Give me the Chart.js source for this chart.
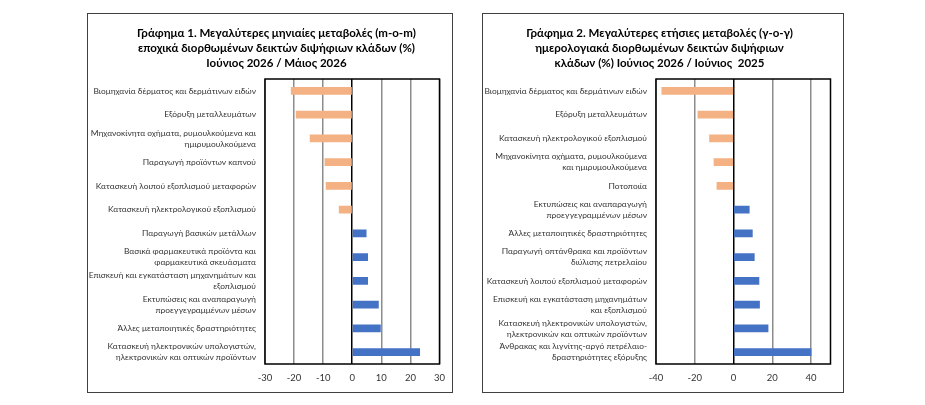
<!DOCTYPE html>
<html lang="el">
<head>
<meta charset="utf-8">
<title>Γραφήματα μεταβολών δεικτών</title>
<script src="https://cdn.jsdelivr.net/npm/chart.js@4.4.1/dist/chart.umd.min.js"></script>
<style>
    html, body { margin: 0; padding: 0; background: #fff; }
    body { width: 925px; height: 405px; position: relative; overflow: hidden; }
    .box { position: absolute; top: 13px; height: 380px; }
    .box canvas { position: absolute; left: 0; top: 0; }
    .frame { position: absolute; inset: 0; border: 1.5px solid #404040; pointer-events: none; }
    .ttl {
        position: absolute; top: 25px; width: 400px; text-align: center;
        font: bold 11.5px/15px Lato, 'Open Sans', sans-serif; color: #000; white-space: pre;
    }
    #box-mom { left: 87px; width: 366px; }
    #box-yoy { left: 482px; width: 362px; }
    #ttl-mom { left: 76.5px; }
    #ttl-yoy { left: 459.5px; }
</style>
</head>
<body>
<div class="box" id="box-mom"><canvas id="chart-mom"></canvas><div class="frame"></div></div>
<div class="box" id="box-yoy"><canvas id="chart-yoy"></canvas><div class="frame"></div></div>
<div class="ttl" id="ttl-mom"></div>
<div class="ttl" id="ttl-yoy"></div>

<script>
// Γράφημα 1 — μηνιαίες μεταβολές (m-o-m)
const momTitle = [
    'Γράφημα 1. Μεγαλύτερες μηνιαίες μεταβολές (m-o-m)',
    'εποχικά διορθωμένων δεικτών διψήφιων κλάδων (%)',
    'Ιούνιος 2026 / Μάιος 2026'
];
const momLabels = [
    'Βιομηχανία δέρματος και δερμάτινων ειδών',
    'Εξόρυξη μεταλλευμάτων',
    ['Μηχανοκίνητα οχήματα, ρυμουλκούμενα και', 'ημιρυμουλκούμενα'],
    'Παραγωγή προϊόντων καπνού',
    'Κατασκευή λοιπού εξοπλισμού μεταφορών',
    'Κατασκευή ηλεκτρολογικού εξοπλισμού',
    'Παραγωγή βασικών μετάλλων',
    ['Βασικά φαρμακευτικά προϊόντα και', 'φαρμακευτικά σκευάσματα'],
    ['Επισκευή και εγκατάσταση μηχανημάτων και', 'εξοπλισμού'],
    ['Εκτυπώσεις και αναπαραγωγή', 'προεγγεγραμμένων μέσων'],
    'Άλλες μεταποιητικές δραστηριότητες',
    ['Κατασκευή ηλεκτρονικών υπολογιστών,', 'ηλεκτρονικών και οπτικών προϊόντων']
];
const momValues = [-21.0, -19.3, -14.5, -9.4, -9.0, -4.5, 4.8, 5.3, 5.3, 9.0, 9.7, 23.2];
const momTicks = [-30, -20, -10, 0, 10, 20, 30];

// Γράφημα 2 — ετήσιες μεταβολές (y-o-y)
const yoyTitle = [
    'Γράφημα 2. Μεγαλύτερες ετήσιες μεταβολές (γ-ο-γ)',
    'ημερολογιακά διορθωμένων δεικτών διψήφιων',
    'κλάδων (%) Ιούνιος 2026 / Ιούνιος  2025'
];
const yoyLabels = [
    'Βιομηχανία δέρματος και δερμάτινων ειδών',
    'Εξόρυξη μεταλλευμάτων',
    'Κατασκευή ηλεκτρολογικού εξοπλισμού',
    ['Μηχανοκίνητα οχήματα, ρυμουλκούμενα', 'και ημιρυμουλκούμενα'],
    'Ποτοποιία',
    ['Εκτυπώσεις και αναπαραγωγή', 'προεγγεγραμμένων μέσων'],
    'Άλλες μεταποιητικές δραστηριότητες',
    ['Παραγωγή οπτάνθρακα και προϊόντων', 'διύλισης πετρελαίου'],
    'Κατασκευή λοιπού εξοπλισμού μεταφορών',
    ['Επισκευή και εγκατάσταση μηχανημάτων', 'και εξοπλισμού'],
    ['Κατασκευή ηλεκτρονικών υπολογιστών,', 'ηλεκτρονικών και οπτικών προϊόντων'],
    ['Άνθρακας και λιγνίτης-αργό πετρέλαιο-', 'δραστηριότητες εξόρυξης']
];
const yoyValues = [-37.0, -18.4, -12.4, -10.1, -8.6, 8.1, 9.7, 10.7, 13.1, 13.4, 17.8, 40.0];
const yoyTicks = [-40, -20, 0, 20, 40];

const FONT = "Lato, 'Open Sans', 'Noto Sans', sans-serif";
const NEG_COLOR = '#F4B183';
const POS_COLOR = '#4472C4';

// Μαύρο πλαίσιο γύρω από την περιοχή σχεδίασης
const plotFrame = {
    id: 'plotFrame',
    afterDraw(chart) {
        const {ctx, chartArea: a} = chart;
        ctx.save();
        ctx.strokeStyle = '#000';
        ctx.lineWidth = 1.5;
        ctx.strokeRect(a.left, a.top, a.right - a.left, a.bottom - a.top);
        ctx.restore();
    }
};

function makeChart(id, width, title, labels, values, ticks, min, max, rightPad, axisWidth) {
    document.getElementById(id.replace('chart', 'ttl')).textContent = title.join('\n');

    const canvas = document.getElementById(id);
    canvas.width = width;
    canvas.height = 380;
    canvas.style.width = width + 'px';
    canvas.style.height = '380px';

    return new Chart(canvas, {
        type: 'bar',
        data: {
            labels,
            datasets: [{
                data: values,
                backgroundColor: values.map(v => v < 0 ? NEG_COLOR : POS_COLOR),
                borderWidth: 0,
                barThickness: 7
            }]
        },
        options: {
            indexAxis: 'y',
            responsive: false,
            animation: false,
            devicePixelRatio: 1,
            layout: {padding: {left: 0, right: rightPad, top: 66, bottom: 0}},
            plugins: {
                legend: {display: false},
                tooltip: {enabled: false},
                title: {display: false}
            },
            scales: {
                x: {
                    type: 'linear',
                    min, max,
                    afterBuildTicks: s => { s.ticks = ticks.map(v => ({value: v})); },
                    afterFit: s => { s.height = 29; },
                    grid: {
                        drawTicks: false,
                        lineWidth: 1.5,
                        color: c => c.tick && c.tick.value === 0 ? '#000' : '#8c8c8c'
                    },
                    border: {display: false},
                    ticks: {color: '#333', padding: 8, font: {family: FONT, size: 9.5}}
                },
                y: {
                    afterFit: s => { s.width = axisWidth; },
                    grid: {display: false, drawTicks: false},
                    border: {display: false},
                    ticks: {color: '#333', padding: 9, autoSkip: false, font: {family: FONT, size: 8.4, lineHeight: 1.31}}
                }
            }
        },
        plugins: [plotFrame]
    });
}

makeChart('chart-mom', 366, momTitle, momLabels, momValues, momTicks, -30, 30, 12.5, 178);
makeChart('chart-yoy', 362, yoyTitle, yoyLabels, yoyValues, yoyTicks, -40, 50, 13.5, 174);
</script>
</body>
</html>
